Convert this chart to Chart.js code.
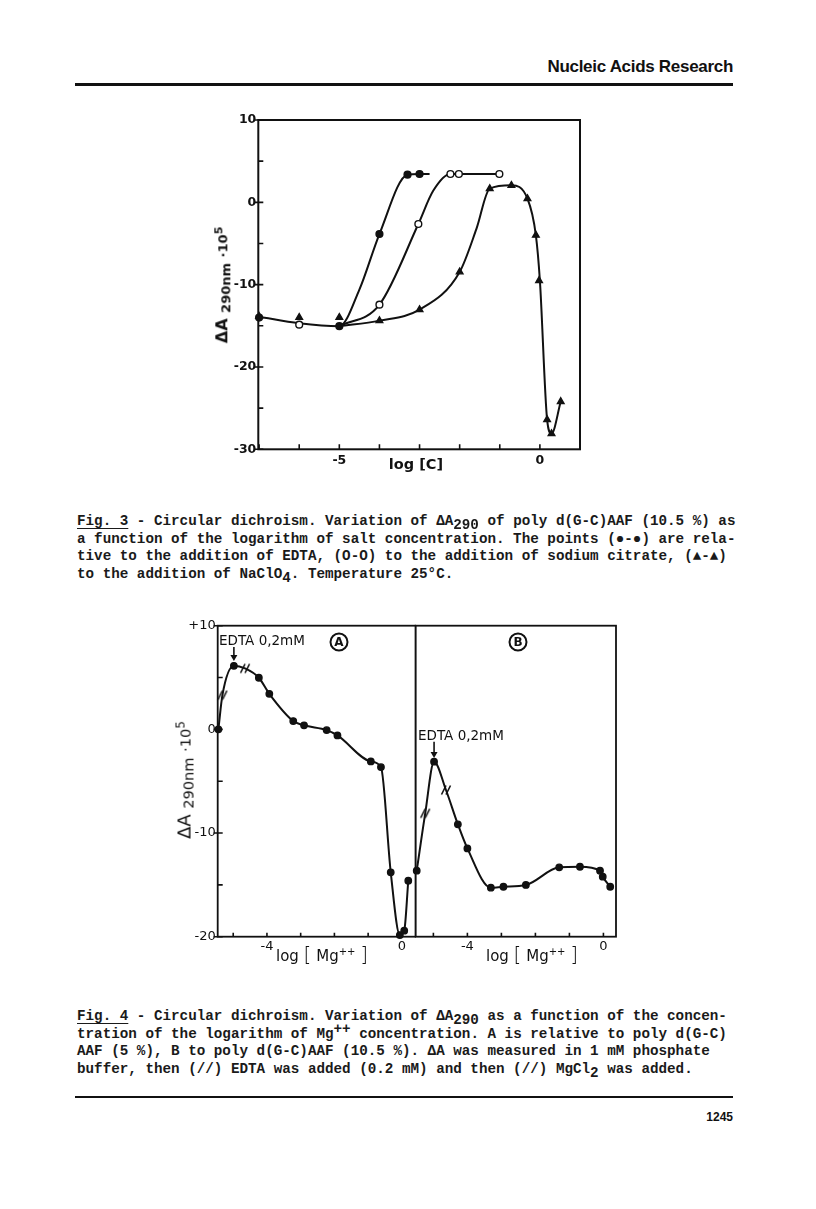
<!DOCTYPE html>
<html>
<head>
<meta charset="utf-8">
<script src="https://cdn.jsdelivr.net/npm/chart.js"></script>
<style>
  html,body{margin:0;padding:0;background:#fff;}
  body{width:816px;height:1209px;position:relative;overflow:hidden;color:#111;}
  .abs{position:absolute;white-space:nowrap;}
  .hdr{font-family:"Liberation Sans",Arial,sans-serif;font-weight:bold;font-size:17px;letter-spacing:-0.3px;}
  .rule{position:absolute;background:#111;}
  .cap{position:absolute;left:77px;font-family:"Liberation Mono",monospace;font-weight:bold;font-size:14.25px;line-height:17.5px;white-space:pre;color:#1a1a1a;}
  .cap .sb{position:relative;top:4px;}
  .cap .sp{position:relative;top:-5px;}
  .cap u{text-underline-offset:3px;}
  .ytitle{position:absolute;white-space:nowrap;font-family:"DejaVu Sans",sans-serif;transform:translate(-50%,-50%) rotate(-90deg);}
  .xtitle{position:absolute;white-space:nowrap;font-family:"DejaVu Sans",sans-serif;transform:translate(-50%,-50%);}
  .lbl{position:absolute;white-space:nowrap;font-family:"DejaVu Sans",sans-serif;}
  .circ{position:absolute;width:15px;height:15px;border:2px solid #111;border-radius:50%;font-family:"DejaVu Sans",sans-serif;font-weight:bold;font-size:12px;line-height:15px;text-align:center;transform:translate(-50%,-50%);}
  canvas{position:absolute;}
</style>
</head>
<body>
<div class="abs hdr" style="right:83px;top:57px;">Nucleic Acids Research</div>
<div class="rule" style="left:75px;top:83px;width:658px;height:2.5px;"></div>

<canvas id="fig3" width="400" height="380" style="left:200px;top:100px;"></canvas>
<div class="ytitle" style="left:222px;top:285px;font-size:16px;font-weight:bold;">ΔA <span style="font-size:13px;position:relative;top:3px;">290nm</span> <span style="font-size:13px;">·10<sup style="font-size:11px;">5</sup></span></div>
<div class="xtitle" style="left:416px;top:464px;font-size:14.5px;font-weight:bold;">log [C]</div>

<div class="cap" style="top:513px;"><u>Fig. 3</u> - Circular dichroism. Variation of ΔA<span class="sb">290</span> of poly d(G-C)AAF (10.5 %) as
a function of the logarithm of salt concentration. The points (●-●) are rela-
tive to the addition of EDTA, (O-O) to the addition of sodium citrate, (▲-▲)
to the addition of NaClO<span class="sb">4</span>. Temperature 25°C.</div>

<canvas id="fig4a" width="256" height="360" style="left:160px;top:610px;"></canvas>
<canvas id="fig4b" width="236" height="360" style="left:400px;top:610px;"></canvas>
<div class="ytitle" style="left:184px;top:780px;font-size:18px;">ΔA <span style="font-size:14.5px;position:relative;top:3px;">290nm</span> <span style="font-size:14.5px;">·10<sup style="font-size:12px;">5</sup></span></div>
<div class="xtitle" style="left:322px;top:954px;font-size:15px;">log <span style="font-size:20px;font-weight:200;">[</span> Mg<sup style="font-size:10px;">++</sup> <span style="font-size:20px;font-weight:200;">]</span></div>
<div class="xtitle" style="left:532px;top:954px;font-size:15px;">log <span style="font-size:20px;font-weight:200;">[</span> Mg<sup style="font-size:10px;">++</sup> <span style="font-size:20px;font-weight:200;">]</span></div>
<div class="lbl" style="left:219px;top:632px;font-size:13.5px;">EDTA 0,2mM</div>
<div class="circ" style="left:339px;top:642px;">A</div>
<div class="circ" style="left:518px;top:642px;">B</div>
<div class="lbl" style="left:418px;top:727px;font-size:13.5px;">EDTA 0,2mM</div>

<div class="cap" style="top:1008px;"><u>Fig. 4</u> - Circular dichroism. Variation of ΔA<span class="sb">290</span> as a function of the concen-
tration of the logarithm of Mg<span class="sp">++</span> concentration. A is relative to poly d(G-C)
AAF (5 %), B to poly d(G-C)AAF (10.5 %). ΔA was measured in 1 mM phosphate
buffer, then (//) EDTA was added (0.2 mM) and then (//) MgCl<span class="sb">2</span> was added.</div>

<div class="rule" style="left:75px;top:1096px;width:658px;height:2px;"></div>
<div class="abs" style="right:83px;top:1110px;font-family:'Liberation Sans',Arial,sans-serif;font-weight:bold;font-size:12px;">1245</div>

<script>
// ---------- Fig. 3 data (log[C], ΔA290·10^5) ----------
const edtaLogC   = [-7.0, -5.0, -4.0, -3.3, -3.0];
const edtaDA     = [-14.0, -15.05, -3.85, 3.36, 3.44];
const citrLogC   = [-6.0, -4.0, -3.03, -2.23, -2.02, -1.01];
const citrDA     = [-14.86, -12.43, -2.63, 3.44, 3.44, 3.44];
const naclLogC   = [-7.0, -6.0, -5.0, -4.0, -3.0, -2.0, -1.25, -0.71, -0.31, -0.10, -0.02, 0.18, 0.29, 0.52];
const naclDA     = [-13.85, -13.97, -13.97, -14.37, -13.04, -8.46, 1.66, 2.06, 0.45, -4.0, -9.5, -26.4, -28.1, -24.2];
// drawn (fitted) curves of Fig. 3
const edtaCurveX = [-7.0, -6.0, -5.0, -4.5, -4.0, -3.3, -3.0, -2.75];
const edtaCurveY = [-13.9, -14.7, -15.05, -10.6, -3.85, 3.36, 3.44, 3.44];
const citrCurveX = [-5.0, -4.0, -3.03, -2.66, -2.23, -1.01];
const citrCurveY = [-15.05, -12.43, -2.63, 1.4, 3.44, 3.44];
const naclCurveX = [-5.0, -4.0, -3.0, -2.0, -1.58, -1.25, -0.71, -0.31, -0.10, 0.0, 0.18, 0.29, 0.52];
const naclCurveY = [-15.05, -14.37, -13.04, -8.46, -3.2, 1.66, 2.06, 0.45, -4.0, -9.5, -26.4, -28.1, -24.2];
const fig3YTicks = [10, 0, -10, -20, -30];
const fig3XTicks = [-5, 0];

// ---------- Fig. 4 data (log[Mg++], ΔA290·10^5) ----------
const aLogMg   = [-5.44, -4.98, -4.24, -3.93, -3.22, -2.90, -2.23, -1.91, -0.92, -0.62, -0.33, -0.06, 0.07, 0.19];
const aDA      = [0.0, 6.13, 4.98, 3.43, 0.80, 0.39, -0.07, -0.58, -3.09, -3.64, -13.79, -19.84, -19.42, -14.6];
const aSlashX  = [-5.32, -4.65];
const aSlashY  = [3.3, 5.88];
const bLogMg   = [-5.49, -4.98, -4.28, -4.0, -3.31, -2.94, -2.28, -1.30, -0.69, -0.10, -0.02, 0.20];
const bDA      = [-13.63, -3.12, -9.16, -11.48, -15.27, -15.18, -15.01, -13.31, -13.25, -13.63, -14.21, -15.18];
const bSlashX  = [-5.24, -4.63];
const bSlashY  = [-8.1, -5.85];
const fig4YTicks = ['+10', '0', '-10', '-20'];
const fig4XTicks = [-4, 0];

const pts = (xs, ys) => xs.map((x, i) => ({x, y: ys[i]}));
const merged = (x1, y1, x2, y2) => pts(x1, y1).concat(pts(x2, y2)).sort((a, b) => a.x - b.x);

// "//" marker image
const slash = document.createElement('canvas');
slash.width = 12; slash.height = 12;
(function(){ const c = slash.getContext('2d'); c.strokeStyle = '#111'; c.lineWidth = 1.6;
  c.beginPath(); c.moveTo(1.5, 10.5); c.lineTo(6, 1.5); c.moveTo(6, 10.5); c.lineTo(10.5, 1.5); c.stroke(); })();

const framePlugin = {
  id: 'frame',
  beforeDatasetsDraw(chart, args, o) {
    const {ctx, chartArea: a} = chart;
    ctx.save();
    ctx.strokeStyle = '#111';
    ctx.lineWidth = o.lw || 2;
    ctx.strokeRect(a.left, a.top, a.right - a.left, a.bottom - a.top);
    ctx.lineWidth = 1.6;
    ctx.beginPath();
    const xs = chart.scales.x;
    xs.ticks.forEach(t => { const p = xs.getPixelForValue(t.value); ctx.moveTo(p, a.bottom); ctx.lineTo(p, a.bottom - (o.xLen || 5)); });
    if (o.yTicks) {
      const ys = chart.scales.y;
      ys.ticks.forEach(t => { const p = ys.getPixelForValue(t.value); const major = t.label !== '';
        ctx.moveTo(a.left - (major ? 4 : 0), p); ctx.lineTo(a.left + 5, p); });
    }
    ctx.stroke();
    ctx.restore();
  },
  afterDatasetsDraw(chart, args, o) {
    if (!o.arrow) return;
    const {ctx} = chart; const xs = chart.scales.x, ys = chart.scales.y;
    const px = xs.getPixelForValue(o.arrow.x), y1 = ys.getPixelForValue(o.arrow.y1), y2 = ys.getPixelForValue(o.arrow.y2);
    ctx.save(); ctx.strokeStyle = '#111'; ctx.fillStyle = '#111'; ctx.lineWidth = 1.6;
    ctx.beginPath(); ctx.moveTo(px, y1); ctx.lineTo(px, y2 - 4); ctx.stroke();
    ctx.beginPath(); ctx.moveTo(px - 3.5, y2 - 6); ctx.lineTo(px + 3.5, y2 - 6); ctx.lineTo(px, y2); ctx.closePath(); ctx.fill();
    ctx.restore();
  }
};

const curve = (data) => ({data, showLine: true, pointRadius: 0, borderColor: '#111', borderWidth: 2,
  cubicInterpolationMode: 'monotone', clip: false, fill: false});
const marks = (data, style, fill, r) => ({data, showLine: false, pointStyle: style, pointRadius: r || 3,
  pointBackgroundColor: fill, pointBorderColor: '#111', pointBorderWidth: 1.4, clip: false});

const tickFont = {family: 'DejaVu Sans', size: 12.5, weight: 'bold'};

// ---------- Fig. 3 ----------
new Chart(document.getElementById('fig3'), {
  type: 'scatter',
  data: {datasets: [
    marks(pts(edtaLogC, edtaDA), 'circle', '#111', 3.4),
    marks(pts(citrLogC, citrDA), 'circle', '#fff', 3.4),
    marks(pts(naclLogC, naclDA), 'triangle', '#111', 3.8),
    curve(pts(edtaCurveX, edtaCurveY)),
    curve(pts(citrCurveX, citrCurveY)),
    curve(pts(naclCurveX, naclCurveY))
  ]},
  options: {
    responsive: false, animation: false, devicePixelRatio: 1,
    layout: {padding: {top: 20, right: 20, left: 0, bottom: 0}, autoPadding: false},
    plugins: {legend: {display: false}, tooltip: {enabled: false}, frame: {lw: 2, yTicks: true, xLen: 5}},
    scales: {
      x: {type: 'linear', min: -7.02, max: 1.0,
        afterFit: s => { s.height = 30.7; },
        grid: {display: false, drawTicks: false}, border: {display: false},
        ticks: {stepSize: 1, includeBounds: false, autoSkip: false, maxRotation: 0, padding: 4, color: '#111', font: tickFont,
          callback: v => fig3XTicks.includes(v) ? String(v) : ''}},
      y: {type: 'linear', min: -30, max: 10,
        afterFit: s => { s.width = 58.3; },
        grid: {display: false, drawTicks: false}, border: {display: false},
        ticks: {stepSize: 5, autoSkip: false, padding: 2, color: '#111', font: tickFont,
          callback: v => fig3YTicks.includes(v) ? String(v) : ''}}
    }
  },
  plugins: [framePlugin]
});

// ---------- Fig. 4 A ----------
const f4font = {family: 'DejaVu Sans', size: 13};
new Chart(document.getElementById('fig4a'), {
  type: 'scatter',
  data: {datasets: [
    marks(pts(aLogMg, aDA), 'circle', '#111', 3.2),
    {data: pts(aSlashX, aSlashY), showLine: false, pointStyle: slash, pointRadius: 5, clip: false},
    curve(merged(aLogMg, aDA, aSlashX, aSlashY))
  ]},
  options: {
    responsive: false, animation: false, devicePixelRatio: 1,
    layout: {padding: {top: 15.7, right: 0.3, left: 0, bottom: 0}, autoPadding: false},
    plugins: {legend: {display: false}, tooltip: {enabled: false},
      frame: {lw: 1.8, yTicks: true, xLen: 4, arrow: {x: -4.98, y1: 7.95, y2: 6.6}}},
    scales: {
      x: {type: 'linear', min: -5.46, max: 0.41,
        afterFit: s => { s.height = 33.3; },
        grid: {display: false, drawTicks: false}, border: {display: false},
        ticks: {stepSize: 1, includeBounds: false, autoSkip: false, maxRotation: 0, padding: 2, color: '#111', font: f4font,
          callback: v => fig4XTicks.includes(v) ? String(v) : ''}},
      y: {type: 'linear', min: -20, max: 10,
        afterFit: s => { s.width = 57.7; },
        grid: {display: false, drawTicks: false}, border: {display: false},
        ticks: {stepSize: 5, autoSkip: false, padding: 2, color: '#111', font: f4font,
          callback: v => { const s = v > 0 ? '+' + v : String(v); return fig4YTicks.includes(s) ? s : ''; }}}
    }
  },
  plugins: [framePlugin]
});

// ---------- Fig. 4 B ----------
new Chart(document.getElementById('fig4b'), {
  type: 'scatter',
  data: {datasets: [
    marks(pts(bLogMg, bDA), 'circle', '#111', 3.2),
    {data: pts(bSlashX, bSlashY), showLine: false, pointStyle: slash, pointRadius: 5, clip: false},
    curve(merged(bLogMg, bDA, bSlashX, bSlashY))
  ]},
  options: {
    responsive: false, animation: false, devicePixelRatio: 1,
    layout: {padding: {top: 15.7, right: 20, left: 15.7, bottom: 0}, autoPadding: false},
    plugins: {legend: {display: false}, tooltip: {enabled: false},
      frame: {lw: 1.8, yTicks: false, xLen: 4, arrow: {x: -4.98, y1: -1.2, y2: -2.75}}},
    scales: {
      x: {type: 'linear', min: -5.52, max: 0.37,
        afterFit: s => { s.height = 33.3; },
        grid: {display: false, drawTicks: false}, border: {display: false},
        ticks: {stepSize: 1, includeBounds: false, autoSkip: false, maxRotation: 0, padding: 2, color: '#111', font: f4font,
          callback: v => fig4XTicks.includes(v) ? String(v) : ''}},
      y: {type: 'linear', min: -20, max: 10, display: false}
    }
  },
  plugins: [framePlugin]
});
</script>
</body>
</html>
